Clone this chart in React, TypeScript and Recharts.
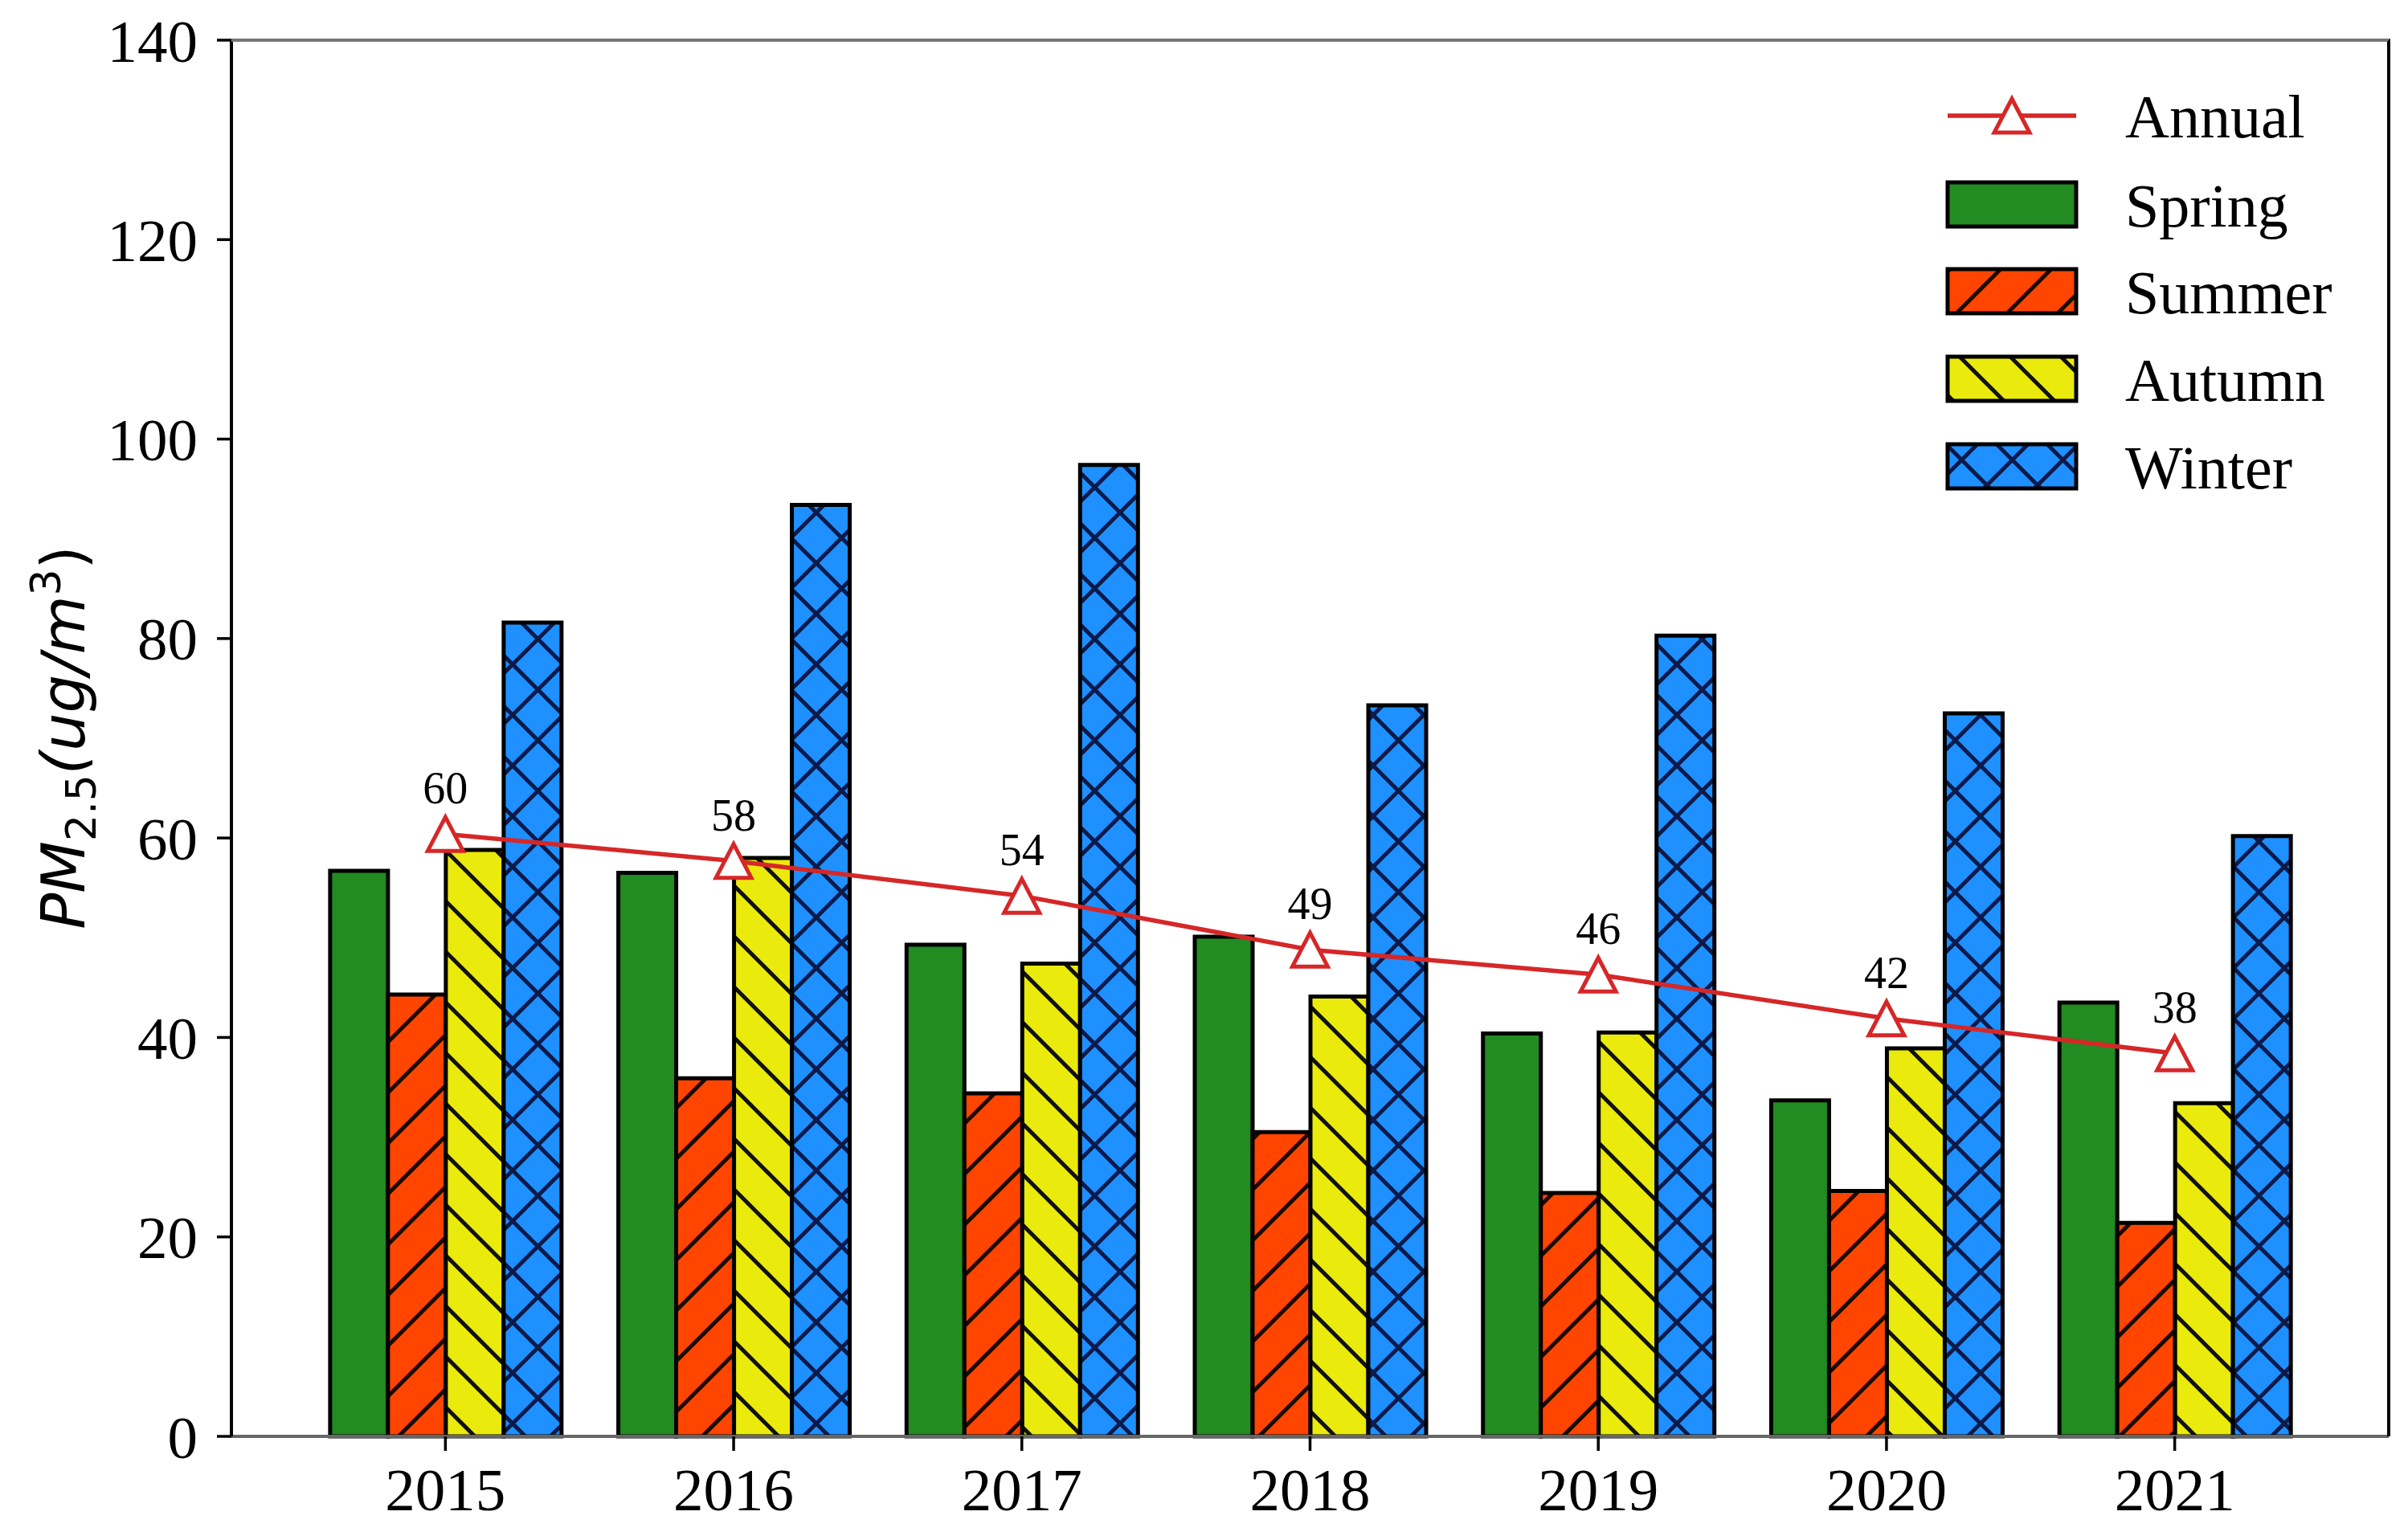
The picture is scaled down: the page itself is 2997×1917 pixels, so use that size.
import React from 'react';
import {
  BarChart,
  Bar,
  Line,
  XAxis,
  YAxis,
  LabelList,
} from 'recharts';

// values (PM2.5, ug/m3)
const years = ['2015', '2016', '2017', '2018', '2019', '2020', '2021'];
const spring = [56.7, 56.5, 49.3, 50.1, 40.4, 33.7, 43.5];
const summer = [44.3, 35.9, 34.4, 30.5, 24.4, 24.6, 21.4];
const autumn = [58.8, 58.0, 47.4, 44.1, 40.5, 38.9, 33.4];
const winter = [81.6, 93.4, 97.4, 73.3, 80.3, 72.5, 60.2];
const annual = [60.4, 57.7, 54.2, 48.8, 46.3, 41.9, 38.4];
const yTicks = [0, 20, 40, 60, 80, 100, 120, 140];

const data = years.map((year, i) => ({
  year,
  spring: spring[i],
  summer: summer[i],
  autumn: autumn[i],
  winter: winter[i],
  annual: annual[i],
}));

const W = 2981;
const H = 1901;
const SERIF = '"Liberation Serif", "Times New Roman", serif';
const RED = '#d62728';
const GREEN = '#228b22';
const ORANGE = '#ff4500';
const YELLOW = '#eaea0c';
const BLUE = '#1e90ff';
const NAVY = '#0c1a4a';
const P = 63; // hatch period

/**
 * Hatch patterns like matplotlib's '/', '\\' and 'x'
 */
function HatchDefs({ prefix }: { prefix: string }) {
  const fwd = `M0,${P} L${P},0 M-16,16 L16,-16 M${P - 16},${P + 16} L${P + 16},${P - 16}`;
  const back = `M0,0 L${P},${P} M-16,${P - 16} L16,${P + 16} M${P - 16},-16 L${P + 16},16`;
  return (
    <defs>
      <pattern id={`${prefix}-summer`} patternUnits="userSpaceOnUse" width={P} height={P}>
        <rect width={P} height={P} fill={ORANGE} />
        <path d={fwd} stroke="#1a0a00" strokeWidth={5} />
      </pattern>
      <pattern id={`${prefix}-autumn`} patternUnits="userSpaceOnUse" width={P} height={P}>
        <rect width={P} height={P} fill={YELLOW} />
        <path d={back} stroke="#111" strokeWidth={5} />
      </pattern>
      <pattern id={`${prefix}-winter`} patternUnits="userSpaceOnUse" width={P} height={P}>
        <rect width={P} height={P} fill={BLUE} />
        <path d={fwd} stroke={NAVY} strokeWidth={5} />
        <path d={back} stroke={NAVY} strokeWidth={5} />
      </pattern>
    </defs>
  );
}

function TriangleDot({ cx, cy }: any) {
  if (cx == null || cy == null) return null;
  return (
    <polygon
      points={`${cx},${cy - 21} ${cx - 22},${cy + 21} ${cx + 22},${cy + 21}`}
      fill="#ffffff"
      stroke={RED}
      strokeWidth={5}
    />
  );
}

function AnnualLabel({ x, y, value }: any) {
  return (
    <text x={x} y={y - 38} textAnchor="middle" fontFamily={SERIF} fontSize={56} fill="#000">
      {Math.round(value)}
    </text>
  );
}

function YLabel() {
  const x = 97;
  const y = 910;
  return (
    <text
      x={x}
      y={y}
      transform={`rotate(-90, ${x}, ${y})`}
      textAnchor="middle"
      fontFamily='"DejaVu Sans", sans-serif'
      fontSize={75}
      fill="#000"
    >
      <tspan fontStyle="italic">PM</tspan>
      <tspan fontSize={52} dy={14}>2.5</tspan>
      <tspan fontStyle="italic" dy={-14}>(ug/m</tspan>
      <tspan fontSize={52} dy={-30}>3</tspan>
      <tspan dy={30}>)</tspan>
    </text>
  );
}

function SeasonLegend() {
  const items = [
    { name: 'Spring', fill: GREEN, y: 127 },
    { name: 'Summer', fill: 'url(#lg-summer)', y: 235 },
    { name: 'Autumn', fill: 'url(#lg-autumn)', y: 344 },
    { name: 'Winter', fill: 'url(#lg-winter)', y: 453 },
  ];
  return (
    <svg
      width={560}
      height={540}
      style={{ position: 'absolute', left: 2402, top: 92 }}
    >
      <HatchDefs prefix="lg" />
      <line x1={14} x2={174} y1={44} y2={44} stroke={RED} strokeWidth={5.5} />
      <TriangleDot cx={94} cy={44} />
      <text x={235} y={71} fontFamily={SERIF} fontSize={76} fill="#000">Annual</text>
      {items.map((it) => (
        <g key={it.name}>
          <rect x={14} y={it.y} width={160} height={55} fill={it.fill} stroke="#000" strokeWidth={5} />
          <text x={235} y={it.y + 55} fontFamily={SERIF} fontSize={76} fill="#000">
            {it.name}
          </text>
        </g>
      ))}
    </svg>
  );
}

export default function App() {
  const tickStyle = { fontFamily: SERIF, fontSize: 75, fill: '#000' };
  return (
    <div style={{ position: 'relative', width: W, height: H }}>
      <BarChart
        width={W}
        height={H}
        data={data}
        margin={{ top: 42, right: 16, left: 0, bottom: 0 }}
        barCategoryGap="10%"
        barGap={0}
      >
        <HatchDefs prefix="bar" />
        <XAxis
          dataKey="year"
          height={121}
          padding={{ left: 87, right: 87 }}
          tick={tickStyle}
          tickSize={18}
          tickMargin={21}
          tickLine={{ stroke: '#000', strokeWidth: 3.5 }}
          axisLine={{ stroke: '#666', strokeWidth: 4 }}
        />
        <YAxis
          width={280}
          domain={[0, 140]}
          ticks={yTicks}
          interval={0}
          tick={tickStyle}
          tickSize={18}
          tickMargin={24}
          tickLine={{ stroke: '#000', strokeWidth: 3.5 }}
          axisLine={{ stroke: '#000', strokeWidth: 4 }}
          label={<YLabel />}
        />
        <Bar dataKey="spring" fill={GREEN} stroke="#000" strokeWidth={5} isAnimationActive={false} />
        <Bar dataKey="summer" fill="url(#bar-summer)" stroke="#000" strokeWidth={5} isAnimationActive={false} />
        <Bar dataKey="autumn" fill="url(#bar-autumn)" stroke="#000" strokeWidth={5} isAnimationActive={false} />
        <Bar dataKey="winter" fill="url(#bar-winter)" stroke="#000" strokeWidth={5} isAnimationActive={false} />
        <Line
          dataKey="annual"
          type="linear"
          stroke={RED}
          strokeWidth={5.5}
          dot={<TriangleDot />}
          activeDot={false}
          isAnimationActive={false}
        >
          <LabelList dataKey="annual" content={<AnnualLabel />} />
        </Line>
      </BarChart>
      {/* top and right spines of the axes box */}
      <div
        style={{
          position: 'absolute',
          left: 280,
          top: 40,
          width: 2687,
          height: 1740,
          boxSizing: 'border-box',
          borderTop: '4px solid #777',
          borderRight: '4px solid #000',
          pointerEvents: 'none',
        }}
      />
      <SeasonLegend />
    </div>
  );
}
